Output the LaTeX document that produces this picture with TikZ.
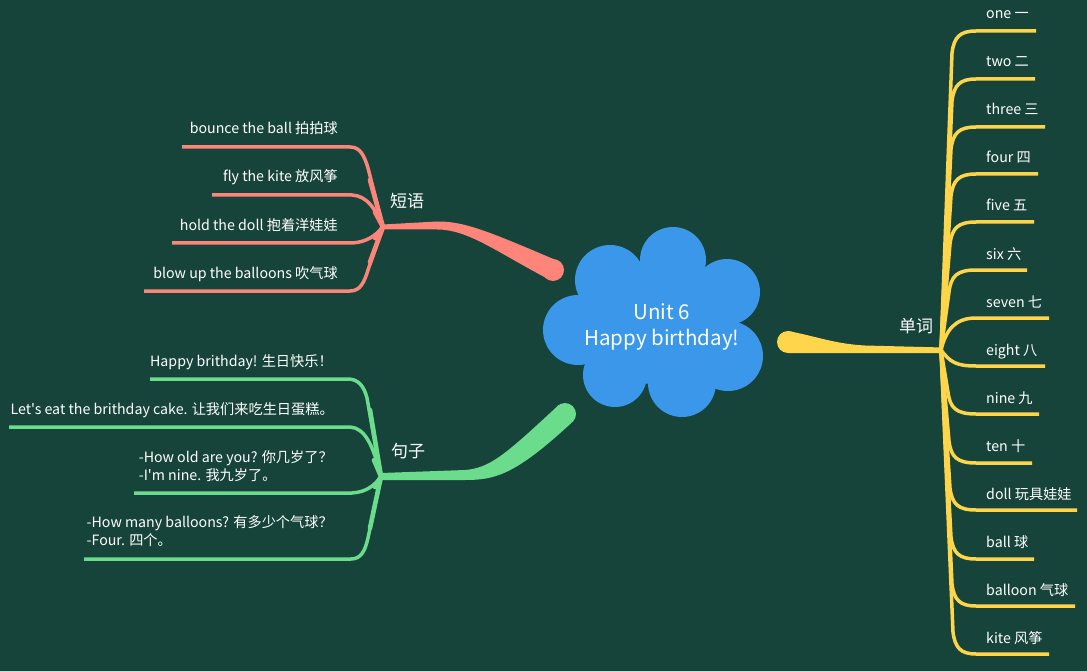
\documentclass[tikz,border=0pt]{standalone}
\usepackage{fontspec}
\newfontfamily\mf{Noto Sans CJK SC}
\definecolor{bg}{HTML}{16443A}
\definecolor{salmon}{HTML}{FF857A}
\definecolor{mint}{HTML}{6BDC8C}
\definecolor{gold}{HTML}{FFD54C}
\definecolor{sky}{HTML}{3A97EA}
\begin{document}
\begin{tikzpicture}[x=1pt,y=-1pt,
  item/.style={text=white, font=\mf\fontsize{14.2}{18}\selectfont, inner sep=0pt},
  lbl/.style={text=white, font=\mf\fontsize{17}{20}\selectfont, inner sep=0pt},
  sbr/.style={draw=salmon, line width=3.5pt},
  gbr/.style={draw=mint, line width=3.5pt},
  ybr/.style={draw=gold, line width=3.5pt},
  thick end/.style={line width=4.6pt, line cap=round}]
\fill[bg] (0,0) rectangle (1087,671);
\useasboundingbox (0,0) rectangle (1087,671);

% ---------- central cloud ----------
\begin{scope}[fill=sky]
  \fill (673,260) circle[radius=33];
  \fill (610,280) circle[radius=35];
  \fill (578,330) circle[radius=35];
  \fill (615,375) circle[radius=32];
  \fill (682,383) circle[radius=34];
  \fill (728,356) circle[radius=35];
  \fill (727,292) circle[radius=33];
  \fill (655,322) ellipse[x radius=80, y radius=62];
\end{scope}
\node[text=white, font=\mf\fontsize{20.5}{26}\selectfont, align=center, inner sep=0pt] (root) at (662,327) {Unit 6\\Happy birthday!};

% ---------- salmon: 短语 ----------
\coordinate (js) at (383,227);
\coordinate (tips) at (553,270);
\fill[salmon] (tips) circle[radius=11];
\fill[salmon] (383,224.5) -- (437,221.5) .. controls (465,221) and (492,233) .. (557,260.5)
  -- (549,279.5) .. controls (495,251) and (468,229.5) .. (437,229.5) -- (383,229.5) -- cycle;
\node[lbl] (ls) at (407,201) {短语};
\coordinate (s1) at (182,147);
\coordinate (s2) at (212,195);
\coordinate (s3) at (172,243);
\coordinate (s4) at (144,291);
\draw[sbr] (s1) -- (350,147) .. controls (360,147) and (364,155) .. (368,168) -- (js);
\draw[sbr] (s2) -- (352,195) .. controls (367,196) and (375,208) .. (js);
\draw[sbr] (s3) -- (352,243) .. controls (367,242) and (375,236) .. (js);
\draw[sbr] (s4) -- (350,291) .. controls (360,291) and (364,283) .. (368,270) -- (js);
\draw[draw=salmon, thick end] (370,180) -- (js) (375,212) -- (js) (375,238) -- (js) (370,262) -- (js);
\node[item, anchor=base east] (p1) at (338,134) {bounce the ball 拍拍球};
\node[item, anchor=base east] (p2) at (338,182) {fly the kite 放风筝};
\node[item, anchor=base east] (p3) at (338,230) {hold the doll 抱着洋娃娃};
\node[item, anchor=base east] (p4) at (338,278) {blow up the balloons 吹气球};

% ---------- green: 句子 ----------
\coordinate (jg) at (381,476.5);
\coordinate (tipg) at (565,414);
\fill[mint] (tipg) circle[radius=11];
\fill[mint] (381,473) -- (465,470) .. controls (490,468) and (505,455) .. (558.8,404.9)
  -- (571.2,423.1) .. controls (515,475) and (495,480) .. (465,480) -- (381,480) -- cycle;
\node[lbl] (lg) at (408,451) {句子};
\coordinate (g1) at (150,379);
\coordinate (g2) at (9,427);
\coordinate (g3) at (134,493);
\coordinate (g4) at (84,559);
\draw[gbr] (g1) -- (348,379) .. controls (358,379) and (364,386) .. (367,398) -- (jg);
\draw[gbr] (g2) -- (350,427) .. controls (365,428) and (373,445) .. (jg);
\draw[gbr] (g3) -- (352,493) .. controls (367,492) and (375,485) .. (jg);
\draw[gbr] (g4) -- (351,559) .. controls (361,559) and (365,551) .. (368,538) -- (jg);
\draw[draw=mint, thick end] (370,410) -- (jg) (374,460) -- (jg) (375,487) -- (jg) (370,528) -- (jg);
\node[item, anchor=base east] (t1) at (333,366) {Happy brithday! 生日快乐！};
\node[item, anchor=base east] (t2) at (334,414) {Let's eat the brithday cake. 让我们来吃生日蛋糕。};
\node[item, anchor=east, align=left] (t3) at (333,466) {-How old are you? 你几岁了？\\-I'm nine. 我九岁了。};
\node[item, anchor=east, align=left] (t4) at (333,531) {-How many balloons? 有多少个气球？\\-Four. 四个。};

% ---------- gold: 单词 ----------
\coordinate (jy) at (941,350);
\coordinate (tipy) at (788,342);
\fill[gold] (tipy) circle[radius=11];
\fill[gold] (788,331) .. controls (815,336) and (835,344) .. (865,345.5) -- (943,347.5)
  -- (943,353) -- (788,353) -- cycle;
\node[lbl] (ly) at (916,326) {单词};

% branches above the junction
\foreach \n/\y/\xr/\xc in {1/31/1036/952,2/79/1035/952,3/127/1045/951,4/174/1038/951,5/222/1034/950,6/270/1027/949}{
  \coordinate (w\n) at (\xr,\y);
  \draw[ybr] (jy) -- (\xc,{\y+22}) .. controls ({\xc+2},{\y+6}) and ({\xc+8},\y) .. (976,\y) -- (w\n);
}
% branches below the junction
\foreach \n/\y/\xr/\xc in {9/414/1039/948,10/463/1032/949,11/510/1077/950,12/559/1034/951,13/606/1075/952,14/654/1049/953}{
  \coordinate (w\n) at (\xr,\y);
  \draw[ybr] (jy) -- (\xc,{\y-22}) .. controls ({\xc+2},{\y-6}) and ({\xc+8},\y) .. (976,\y) -- (w\n);
}
\coordinate (w7) at (1049,318);
\coordinate (w8) at (1045,366);
\draw[ybr] (jy) .. controls (946,330) and (955,318) .. (976,318) -- (w7);
\draw[ybr] (jy) .. controls (950,362) and (956,366) .. (976,366) -- (w8);

\node[item, anchor=base west] (v1) at (986,19) {one 一};
\node[item, anchor=base west] (v2) at (986,67) {two 二};
\node[item, anchor=base west] (v3) at (986,115) {three 三};
\node[item, anchor=base west] (v4) at (986,163) {four 四};
\node[item, anchor=base west] (v5) at (986,211) {five 五};
\node[item, anchor=base west] (v6) at (986,259) {six 六};
\node[item, anchor=base west] (v7) at (986,307) {seven 七};
\node[item, anchor=base west] (v8) at (986,355) {eight 八};
\node[item, anchor=base west] (v9) at (986,403) {nine 九};
\node[item, anchor=base west] (v10) at (986,451) {ten 十};
\node[item, anchor=base west] (v11) at (986,499) {doll 玩具娃娃};
\node[item, anchor=base west] (v12) at (986,547) {ball 球};
\node[item, anchor=base west] (v13) at (986,595) {balloon 气球};
\node[item, anchor=base west] (v14) at (986,643) {kite 风筝};
\end{tikzpicture}
\end{document}
